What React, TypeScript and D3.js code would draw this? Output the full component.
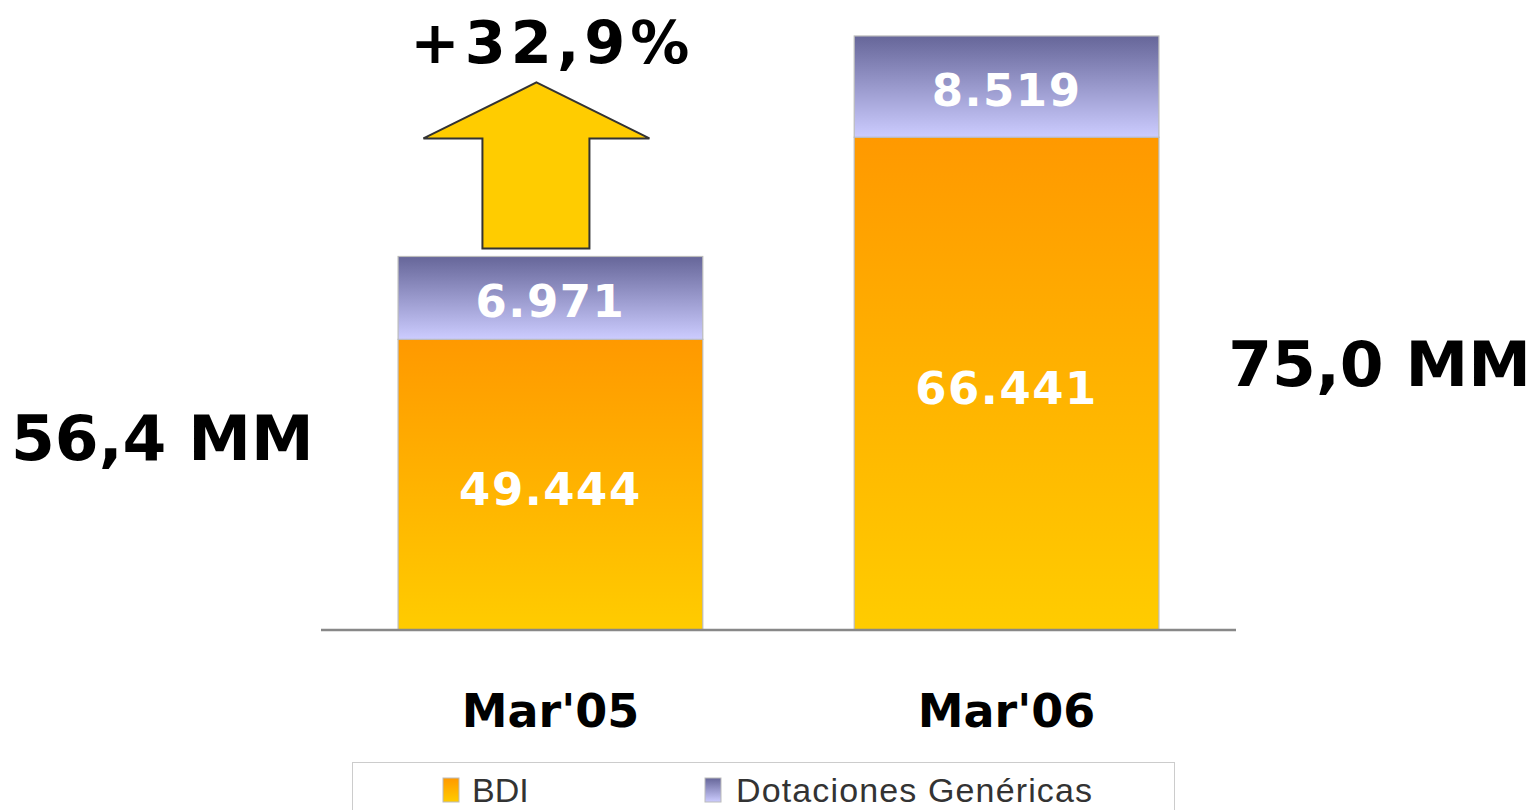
import React from "react";
import * as d3 from "d3";

const categories = ["Mar'05", "Mar'06"];
const bdiValues = [49444, 66441];
const dotValues = [6971, 8519];
const valueLabelsBDI = ["49.444", "66.441"];
const valueLabelsDot = ["6.971", "8.519"];
const totalLabels = ["56,4 MM", "75,0 MM"];
const growthLabel = "+32,9%";
const seriesNames = ["BDI", "Dotaciones Genéricas"];
const yDomain = [25000, 75000];

const W = 1534;
const H = 810;

export default function App() {
  const x = d3
    .scaleBand<string>()
    .domain(categories)
    .range([321, 1236])
    .paddingInner(0.332)
    .paddingOuter(0.169);
  const y = d3.scaleLinear().domain(yDomain).range([630, 35.5]);
  const bw = x.bandwidth();
  const font = "'DejaVu Sans', Verdana, sans-serif";

  const x0 = x(categories[0])! + bw / 2;
  const top0 = y(bdiValues[0] + dotValues[0]);
  const ax = x0 - 14;
  const aBottom = top0 - 8;
  const aShoulder = aBottom - 110;
  const aTip = aShoulder - 56;
  const arrowPts = [
    [ax, aTip],
    [ax + 113, aShoulder],
    [ax + 53, aShoulder],
    [ax + 53, aBottom],
    [ax - 54, aBottom],
    [ax - 54, aShoulder],
    [ax - 113, aShoulder],
  ];

  return (
    <svg
      width={W}
      height={H}
      style={{ position: "absolute", left: 0, top: 0, display: "block" }}
    >
      <defs>
        <linearGradient id="gBDI" x1="0" y1="0" x2="0" y2="1">
          <stop offset="0%" stopColor="#FF9900" />
          <stop offset="100%" stopColor="#FFCC00" />
        </linearGradient>
        <linearGradient id="gDot" x1="0" y1="0" x2="0" y2="1">
          <stop offset="0%" stopColor="#666699" />
          <stop offset="100%" stopColor="#CCCCFF" />
        </linearGradient>
      </defs>
      <rect width={W} height={H} fill="#fff" />

      {categories.map((c, i) => {
        const bx = x(c)!;
        const yBdiTop = y(bdiValues[i]);
        const yTotTop = y(bdiValues[i] + dotValues[i]);
        const yBase = y(yDomain[0]);
        return (
          <g key={c}>
            <rect
              x={bx}
              y={yBdiTop}
              width={bw}
              height={yBase - yBdiTop}
              fill="url(#gBDI)"
              stroke="#bbbbbb"
              strokeWidth={1.2}
            />
            <rect
              x={bx}
              y={yTotTop}
              width={bw}
              height={yBdiTop - yTotTop}
              fill="url(#gDot)"
              stroke="#bbbbbb"
              strokeWidth={1.2}
            />
            <text
              x={bx + bw / 2}
              y={(yBdiTop + yBase) / 2 + 20}
              textAnchor="middle"
              fill="#fff"
              fontFamily={font}
              fontWeight="bold"
              fontSize={45}
              letterSpacing={1.5}
            >
              {valueLabelsBDI[i]}
            </text>
            <text
              x={bx + bw / 2}
              y={(yTotTop + yBdiTop) / 2 + 19}
              textAnchor="middle"
              fill="#fff"
              fontFamily={font}
              fontWeight="bold"
              fontSize={45}
              letterSpacing={1.5}
            >
              {valueLabelsDot[i]}
            </text>
            <text
              x={bx + bw / 2}
              y={727}
              textAnchor="middle"
              fill="#000"
              fontFamily={font}
              fontWeight="bold"
              fontSize={46}
            >
              {c}
            </text>
          </g>
        );
      })}

      <line x1={321} x2={1236} y1={630} y2={630} stroke="#888" strokeWidth={2.5} />

      <polygon
        points={arrowPts.map((p) => p.join(",")).join(" ")}
        fill="#FFCC00"
        stroke="#333"
        strokeWidth={2}
        strokeLinejoin="miter"
      />
      <text
        x={ax + 16}
        y={63}
        textAnchor="middle"
        fill="#000"
        fontFamily={font}
        fontWeight="bold"
        fontSize={59}
        letterSpacing={5}
      >
        {growthLabel}
      </text>

      <text x={11} y={460} fill="#000" fontFamily={font} fontWeight="bold" fontSize={63}>
        {totalLabels[0]}
      </text>
      <text x={1531} y={386} textAnchor="end" fill="#000" fontFamily={font} fontWeight="bold" fontSize={63}>
        {totalLabels[1]}
      </text>

      <rect x={352.5} y={762.5} width={822} height={60} fill="#fff" stroke="#cccccc" strokeWidth={1} />
      <rect x={443} y={778} width={16} height={24} fill="url(#gBDI)" stroke="#bbbbbb" strokeWidth={1} />
      <text x={472} y={802} fill="#333" fontFamily="'Liberation Sans', Arial, sans-serif" fontSize={34}>
        {seriesNames[0]}
      </text>
      <rect x={705} y={778} width={16} height={24} fill="url(#gDot)" stroke="#bbbbbb" strokeWidth={1} />
      <text
        x={736}
        y={802}
        fill="#333"
        fontFamily="'Liberation Sans', Arial, sans-serif"
        fontSize={34}
        textLength={356}
        lengthAdjust="spacing"
      >
        {seriesNames[1]}
      </text>
    </svg>
  );
}
